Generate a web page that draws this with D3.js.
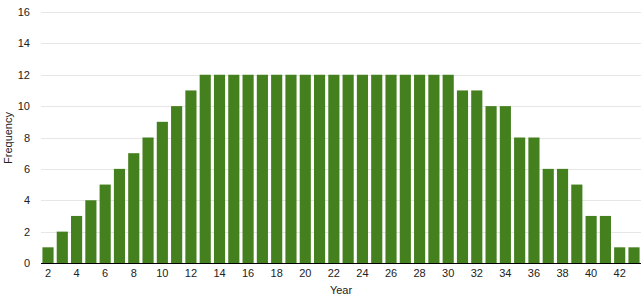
<!DOCTYPE html>
<html>
<head>
<meta charset="utf-8">
<script src="https://cdn.jsdelivr.net/npm/d3@7"></script>
<style>
  body { margin: 0; background: #fff; }
  text { font-family: "Liberation Sans", Arial, sans-serif; }
</style>
</head>
<body>
<div id="chart"></div>
<script>
// year frequency bar chart
var years = d3.range(2, 44);
var freq = [1, 2, 3, 4, 5, 6, 7, 8, 9, 10, 11,
            12, 12, 12, 12, 12, 12, 12, 12, 12, 12, 12, 12, 12, 12, 12, 12, 12, 12,
            11, 11, 10, 10, 8, 8, 6, 6, 5, 3, 3, 1, 1];
var yTicks = [0, 2, 4, 6, 8, 10, 12, 14, 16];

var width = 642,
    height = 297;
var margin = {top: 12, right: 1, bottom: 34, left: 41};

var svg = d3.select("#chart").append("svg")
    .attr("width", width)
    .attr("height", height);

var x = d3.scaleBand()
    .domain(years)
    .range([margin.left, width - margin.right])
    .paddingInner(0.22)
    .paddingOuter(0.1);

var y = d3.scaleLinear()
    .domain([0, 16])
    .range([height - margin.bottom, margin.top]);

// gridlines
svg.append("g")
    .selectAll("line")
    .data(yTicks.slice(1))
    .enter().append("line")
    .attr("x1", margin.left)
    .attr("x2", width - margin.right)
    .attr("y1", d => Math.round(y(d)) + 0.5)
    .attr("y2", d => Math.round(y(d)) + 0.5)
    .attr("stroke", "#e6e6e6");

// y tick labels
svg.append("g")
    .selectAll("text")
    .data(yTicks)
    .enter().append("text")
    .attr("x", 30)
    .attr("y", d => y(d) + 4)
    .attr("text-anchor", "end")
    .attr("font-size", 11)
    .attr("fill", "#222")
    .text(d => d);

// bars
svg.append("g")
    .selectAll("rect")
    .data(years)
    .enter().append("rect")
    .attr("x", d => x(d))
    .attr("width", x.bandwidth())
    .attr("y", (d, i) => y(freq[i]))
    .attr("height", (d, i) => y(0) - y(freq[i]))
    .attr("fill", "#45801f");

// x axis
var xAxis = d3.axisBottom(x)
    .tickValues(years.filter(d => d % 2 == 0))
    .tickSize(0)
    .tickPadding(6);

var gx = svg.append("g")
    .attr("transform", "translate(0," + y(0) + ")")
    .call(xAxis);
gx.select(".domain").attr("stroke", "#000").attr("d", "M" + margin.left + ",0.5H" + (width - margin.right));
gx.selectAll("text")
    .attr("font-size", 11)
    .attr("font-family", "Liberation Sans, Arial, sans-serif")
    .attr("fill", "#222");

// axis titles
svg.append("text")
    .attr("x", 341)
    .attr("y", 294)
    .attr("text-anchor", "middle")
    .attr("font-size", 11)
    .attr("fill", "#222")
    .text("Year");

svg.append("text")
    .attr("transform", "translate(12,138) rotate(-90)")
    .attr("text-anchor", "middle")
    .attr("font-size", 11)
    .attr("fill", "#222")
    .text("Frequency");
</script>
</body>
</html>
